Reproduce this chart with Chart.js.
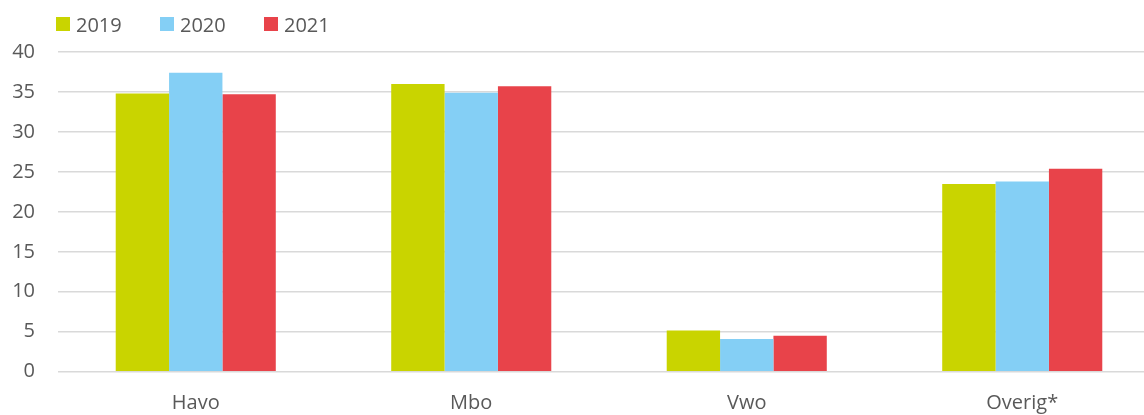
<!DOCTYPE html>
<html>
<head>
<meta charset="utf-8">
<script src="https://cdn.jsdelivr.net/npm/chart.js@4.4.1/dist/chart.umd.min.js"></script>
<style>
html,body{margin:0;padding:0;background:#fff;overflow:hidden;}
#wrap{width:1144px;height:415px;position:relative;overflow:hidden;}
#c{position:absolute;left:0;top:0;}
#legend{position:absolute;left:56px;top:12px;display:flex;font-family:'Open Sans';font-size:20px;color:#595959;}
.item{display:flex;align-items:center;width:104px;height:24px;}
.box{width:14px;height:14px;margin-right:6px;}
</style>
</head>
<body>
<div id="wrap"><canvas id="c" width="1160" height="415"></canvas><div id="legend"></div></div>
<script>
const categories = ["Havo", "Mbo", "Vwo", "Overig*"];
const seriesNames = ["2019", "2020", "2021"];
const values2019 = [34.8, 36.0, 5.15, 23.5];
const values2020 = [37.4, 34.9, 4.1, 23.8];
const values2021 = [34.7, 35.7, 4.5, 25.4];
const yTicks = [0, 5, 10, 15, 20, 25, 30, 35, 40];

const colors = ["#c9d400", "#84cff5", "#e8434a"];
const dataSets = [values2019, values2020, values2021];

const leg = document.getElementById('legend');
seriesNames.forEach((n, i) => {
  const it = document.createElement('div'); it.className = 'item';
  const b = document.createElement('div'); b.className = 'box'; b.style.background = colors[i];
  const t = document.createElement('span'); t.textContent = n;
  it.appendChild(b); it.appendChild(t); leg.appendChild(it);
});

new Chart(document.getElementById('c'), {
  type: 'bar',
  data: {
    labels: categories,
    datasets: seriesNames.map((n, i) => ({
      label: n,
      data: dataSets[i],
      backgroundColor: colors[i],
      borderWidth: 0,
      categoryPercentage: 0.581,
      barPercentage: 1.0
    }))
  },
  options: {
    responsive: false,
    animation: false,
    devicePixelRatio: 1,
    layout: { padding: { left: 0, right: 0, top: 52, bottom: 0 } },
    plugins: {
      tooltip: { enabled: false },
      legend: { display: false }
    },
    scales: {
      x: {
        afterFit: s => { s.height = 43.3; },
        grid: { display: false, drawTicks: false },
        border: { display: false },
        ticks: { color: '#595959', font: { family: 'Open Sans', size: 20 }, padding: 20, maxRotation: 0, autoSkip: false }
      },
      y: {
        min: 0, max: 40,
        afterBuildTicks: s => { s.ticks = yTicks.map(v => ({ value: v })); },
        afterFit: s => { s.width = 58; },
        grid: { color: '#d9d9d9', lineWidth: 1.5, drawTicks: false },
        border: { display: false },
        ticks: { color: '#595959', font: { family: 'Open Sans', size: 20 }, padding: 23 }
      }
    }
  }
});
</script>
</body>
</html>
